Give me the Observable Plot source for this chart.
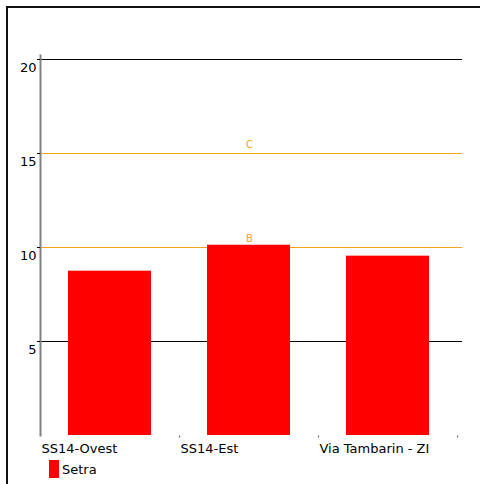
<!DOCTYPE html>
<html>
<head>
<meta charset="utf-8">
<script src="https://cdn.jsdelivr.net/npm/d3@7"></script>
<script src="https://cdn.jsdelivr.net/npm/@observablehq/plot@0.6"></script>
<style>
  html, body { margin: 0; padding: 0; background: #fff; }
  #wrap { position: relative; width: 480px; height: 484px; overflow: hidden; font-family: "DejaVu Sans", Verdana, sans-serif; }
  #frame { position: absolute; left: 6px; top: 6px; width: 500px; height: 500px; border-left: 2px solid #111; border-top: 2px solid #111; box-sizing: border-box; pointer-events: none; }
  #chart { position: absolute; left: 0; top: 0; }
  #legend { position: absolute; left: 49px; top: 460px; display: flex; align-items: center; font-size: 13px; color: #000; }
  #legend .sw { width: 10px; height: 18px; background: #ff0000; margin-right: 3px; }
</style>
</head>
<body>
<div id="wrap">
  <div id="chart"></div>
  <div id="frame"></div>
  <div id="legend"><span class="sw"></span><span>Setra</span></div>
</div>
<script>
const categories = ["SS14-Ovest", "SS14-Est", "Via Tambarin - ZI"];
const setraValues = [8.74, 10.12, 9.54];
const yTicks = [5, 10, 15, 20];
const blackLines = [5, 20];
const thresholds = [10, 15];
const thresholdLabels = ["B", "C"];
const seriesName = "Setra";

const data = categories.map((c, i) => ({ category: c, value: setraValues[i], series: seriesName }));
const thr = thresholds.map((v, i) => ({ value: v, label: thresholdLabels[i] }));

const orange = "#f5a21c";

const chart = Plot.plot({
  width: 480,
  height: 458,
  marginLeft: 40,
  marginRight: 22,
  marginTop: 59,
  marginBottom: 23,
  style: { fontFamily: "'DejaVu Sans', Verdana, sans-serif", fontSize: "13px", background: "transparent", color: "#000" },
  x: { domain: categories, paddingInner: 0.4, paddingOuter: 0.2, axis: null },
  y: { domain: [0, 20], axis: null },
  marks: [
    Plot.ruleY(blackLines, { stroke: "#000", strokeWidth: 1, insetRight: -4 }),
    Plot.ruleY(thr, { y: "value", stroke: orange, strokeWidth: 1, insetRight: -4 }),
    Plot.text(thr, { y: "value", text: "label", fill: orange, fontSize: 10, dy: -9 }),
    Plot.barY(data, { x: "category", y: "value", fill: "#ff0000" }),
    Plot.frame({ anchor: "left", stroke: "#808080", strokeWidth: 2, insetTop: -4 }),
    Plot.axisY({ ticks: yTicks, tickSize: 3, tickFormat: () => "", stroke: "#000", label: null }),
    Plot.axisY({ ticks: yTicks, tickSize: 0, tickPadding: 4, dy: 8, fontSize: 13, fill: "#000", label: null }),
    Plot.ruleX(categories, { x: d => d, y1: 0, y2: 0, dx: 69.6, dy: 1.5, insetTop: -1, insetBottom: -1, stroke: "#555" }),
    Plot.text(categories, { x: d => d, frameAnchor: "bottom", dy: 17.7, dx: -68.5, textAnchor: "start", fontSize: 13, fill: "#000" })
  ]
});
document.getElementById("chart").appendChild(chart);
</script>
</body>
</html>
